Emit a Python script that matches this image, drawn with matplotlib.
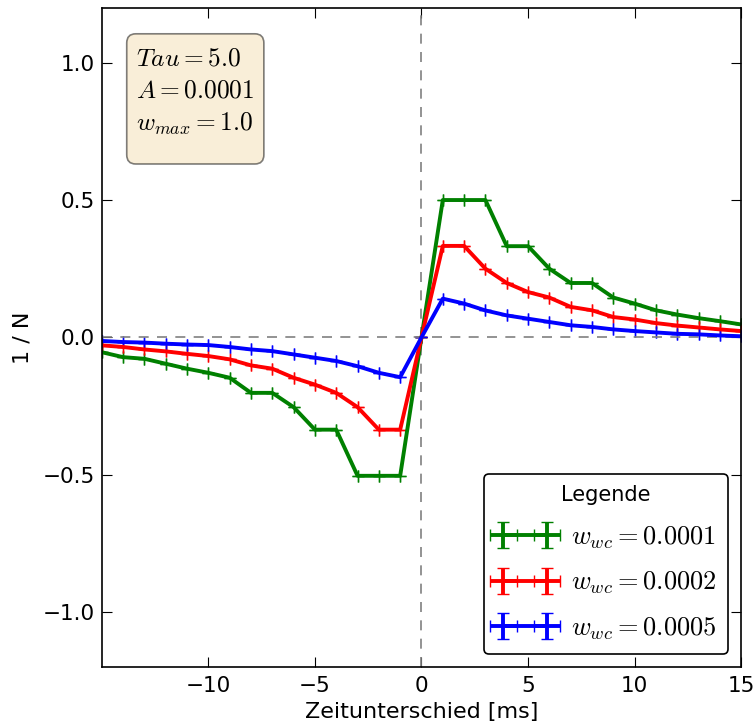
import numpy as np
import matplotlib
matplotlib.use("Agg")
import matplotlib.pyplot as plt
from matplotlib.patches import FancyBboxPatch

# Zeitunterschied [ms]
zeit = list(range(-15, 16))

# 1/N fuer die drei Lernraten
w_0001 = [-0.054, -0.072, -0.078, -0.096, -0.114, -0.129, -0.147, -0.202, -0.202, -0.254,
          -0.336, -0.336, -0.504, -0.504, -0.504, 0.0,
          0.5, 0.5, 0.5, 0.332, 0.332, 0.25, 0.198, 0.198, 0.145, 0.123,
          0.0985, 0.083, 0.070, 0.059, 0.047]
w_0002 = [-0.029, -0.035, -0.044, -0.051, -0.060, -0.068, -0.080, -0.102, -0.114, -0.147,
          -0.172, -0.202, -0.254, -0.336, -0.336, 0.0,
          0.333, 0.333, 0.25, 0.198, 0.165, 0.145, 0.111, 0.0985, 0.074, 0.065,
          0.052, 0.043, 0.036, 0.029, 0.023]
w_0005 = [-0.013, -0.017, -0.019, -0.023, -0.026, -0.028, -0.035, -0.044, -0.050, -0.062,
          -0.074, -0.086, -0.105, -0.129, -0.145, 0.0,
          0.141, 0.123, 0.098, 0.080, 0.068, 0.056, 0.044, 0.038, 0.029, 0.023,
          0.018, 0.013, 0.011, 0.007, 0.004]

serien = [
    (w_0001, 'green', r'$w_{wc} = 0.0001$'),
    (w_0002, 'red', r'$w_{wc} = 0.0002$'),
    (w_0005, 'blue', r'$w_{wc} = 0.0005$'),
]

plt.rcParams['mathtext.fontset'] = 'cm'
plt.rcParams['legend.numpoints'] = 2

fig = plt.figure(figsize=(7.54, 7.26), dpi=100)
ax = fig.add_axes([0.135, 0.0813, 0.848, 0.908])

for werte, farbe, label in serien:
    fehler = np.zeros(len(zeit))
    ax.errorbar(zeit, werte, xerr=fehler, yerr=fehler, color=farbe, lw=2.8,
                capsize=4, capthick=1, label=label)

# Nulllinien
ax.axhline(0, color='gray', ls='--', lw=1.2, dashes=(6, 5))
ax.axvline(0, color='gray', ls='--', lw=1.2, dashes=(6, 5))

ax.set_xlim(-15, 15)
ax.set_ylim(-1.2, 1.2)
ax.set_xticks([-10, -5, 0, 5, 10, 15])
ax.set_yticks([-1.0, -0.5, 0.0, 0.5, 1.0])
ax.tick_params(direction='in', top=True, right=True, length=7, labelsize=15.5)
ax.tick_params(axis='x', pad=6.5)
ax.tick_params(axis='y', pad=5)
ax.set_xlabel('Zeitunterschied [ms]', fontsize=16, labelpad=4)
ax.set_ylabel('1 / N', fontsize=16, labelpad=7)
for s in ax.spines.values():
    s.set_linewidth(1.2)

# Parameterbox
text = '$Tau = 5.0$\n$A = 0.0001$\n$w_{max} = 1.0$'
ax.text(0.053, 0.941, text, transform=ax.transAxes, fontsize=18.3, va='top',
        linespacing=1.4, zorder=5)
box = FancyBboxPatch((0.039, 0.763), 0.2145, 0.1975,
                     boxstyle='round,pad=0,rounding_size=0.014',
                     transform=ax.transAxes, facecolor='wheat', alpha=0.5,
                     edgecolor='black', lw=1.2, zorder=4)
ax.add_patch(box)

leg = ax.legend(loc='lower right', title='Legende', fontsize=19, title_fontsize=15,
                fancybox=True, framealpha=1, edgecolor='black', handlelength=2.25,
                handletextpad=0.6, borderaxespad=0.5, labelspacing=0.72,
                borderpad=0.45)
leg.get_frame().set_linewidth(1.2)

fig.savefig('out.png', dpi=100)
